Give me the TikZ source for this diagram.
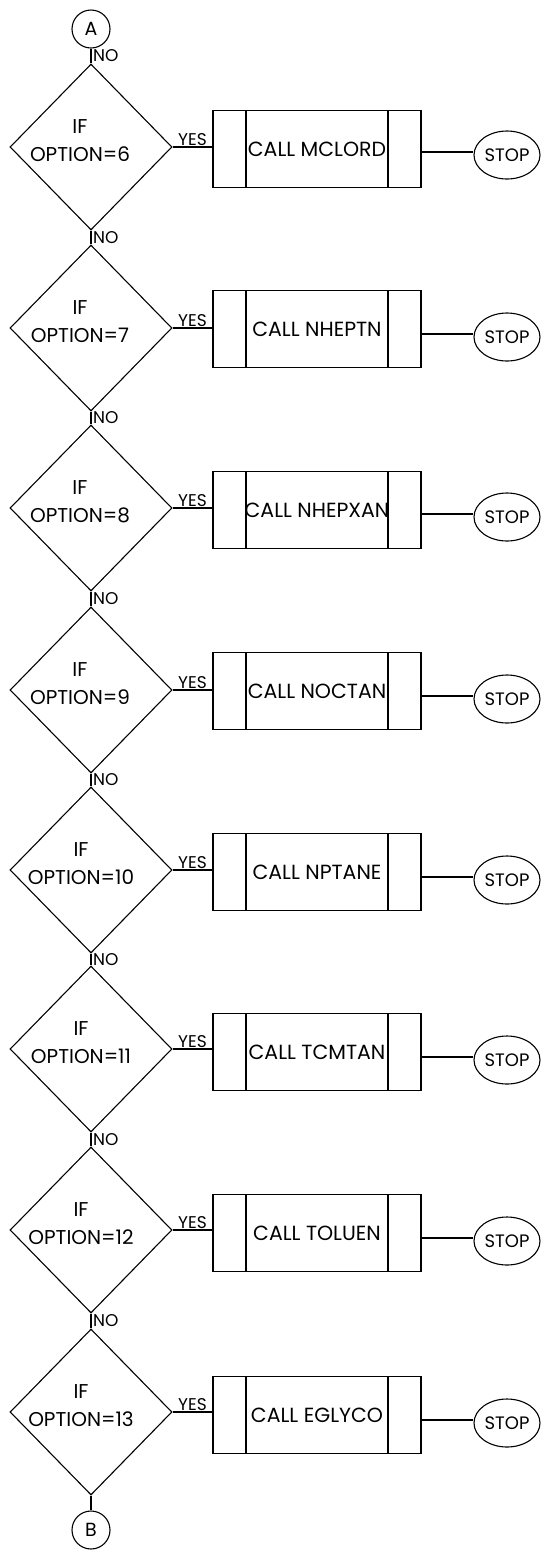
\documentclass[tikz,border=0pt]{standalone}
\usepackage{fontspec}
\setmainfont{Poppins}
\usepackage{tikz}
\usetikzlibrary{shapes.geometric}

\begin{document}
\begin{tikzpicture}[x=1pt,y=1pt,line width=1.1pt,
  conn/.style={draw,circle,minimum size=38pt,inner sep=0pt,font=\fontsize{19}{22}\selectfont},
  decision/.style={draw,diamond,minimum width=162pt,minimum height=166pt,inner sep=0pt},
  iftext/.style={align=center,inner sep=0pt,font=\fontsize{20}{28}\selectfont},
  callbox/.style={draw,rectangle,minimum width=208pt,minimum height=77pt,inner sep=0pt,font=\fontsize{20.5}{24}\selectfont},
  callbox/.append style={path picture={\draw ([xshift=33pt]path picture bounding box.north west) -- ([xshift=33pt]path picture bounding box.south west);
      \draw ([xshift=-33pt]path picture bounding box.north east) -- ([xshift=-33pt]path picture bounding box.south east);}},
  stopnode/.style={draw,ellipse,minimum width=66pt,minimum height=48pt,inner sep=0pt,font=\fontsize{18}{20}\selectfont},
  yeslbl/.style={above,inner sep=0.5pt,font=\fontsize{17}{20}\selectfont},
  nolbl/.style={right,inner sep=1.5pt,font=\fontsize{17}{20}\selectfont}]
\useasboundingbox (0,0) rectangle (541,-1551);

% connectors in and out
\node[conn] (a) at (91,-29) {A};
\node[conn] (b) at (91,-1530) {B};

% option tests
\node[decision] (d6) at (91,-147) {};
\node[decision] (d7) at (91,-328) {};
\node[decision] (d8) at (91,-508) {};
\node[decision] (d9) at (91,-690) {};
\node[decision] (d10) at (91,-870) {};
\node[decision] (d11) at (91,-1049) {};
\node[decision] (d12) at (91,-1230) {};
\node[decision] (d13) at (91,-1412) {};
\node[iftext] (t6) at ([shift={(-11,6)}]d6.center) {IF\\OPTION=6};
\node[iftext] (t7) at ([shift={(-11,6)}]d7.center) {IF\\OPTION=7};
\node[iftext] (t8) at ([shift={(-11,6)}]d8.center) {IF\\OPTION=8};
\node[iftext] (t9) at ([shift={(-11,6)}]d9.center) {IF\\OPTION=9};
\node[iftext] (t10) at ([shift={(-10,6)}]d10.center) {IF\\OPTION=10};
\node[iftext] (t11) at ([shift={(-10,6)}]d11.center) {IF\\OPTION=11};
\node[iftext] (t12) at ([shift={(-10,6)}]d12.center) {IF\\OPTION=12};
\node[iftext] (t13) at ([shift={(-10,6)}]d13.center) {IF\\OPTION=13};

% subroutine calls
\node[callbox] (c6) at (317,-149) {CALL MCLORD};
\node[callbox] (c7) at (317,-329) {CALL NHEPTN};
\node[callbox] (c8) at (317,-510) {CALL NHEPXAN};
\node[callbox] (c9) at (317,-691) {CALL NOCTAN};
\node[callbox] (c10) at (317,-872) {CALL NPTANE};
\node[callbox] (c11) at (317,-1052) {CALL TCMTAN};
\node[callbox] (c12) at (317,-1233) {CALL TOLUEN};
\node[callbox] (c13) at (317,-1415) {CALL EGLYCO};

\node[stopnode] (s6) at (507,-155) {STOP};
\node[stopnode] (s7) at (507,-337) {STOP};
\node[stopnode] (s8) at (507,-517) {STOP};
\node[stopnode] (s9) at (507,-699) {STOP};
\node[stopnode] (s10) at (507,-880) {STOP};
\node[stopnode] (s11) at (507,-1060) {STOP};
\node[stopnode] (s12) at (507,-1241) {STOP};
\node[stopnode] (s13) at (507,-1423) {STOP};

% NO path
\draw (a) -- node[nolbl]{NO} (d6);
\draw (d6) -- node[nolbl]{NO} (d7);
\draw (d7) -- node[nolbl]{NO} (d8);
\draw (d8) -- node[nolbl]{NO} (d9);
\draw (d9) -- node[nolbl]{NO} (d10);
\draw (d10) -- node[nolbl]{NO} (d11);
\draw (d11) -- node[nolbl]{NO} (d12);
\draw (d12) -- node[nolbl]{NO} (d13);
\draw (d13) -- (b);

% YES path
\draw (d6.east) -- node[yeslbl]{YES} (d6.east -| c6.west);
\draw (d7.east) -- node[yeslbl]{YES} (d7.east -| c7.west);
\draw (d8.east) -- node[yeslbl]{YES} (d8.east -| c8.west);
\draw (d9.east) -- node[yeslbl]{YES} (d9.east -| c9.west);
\draw (d10.east) -- node[yeslbl]{YES} (d10.east -| c10.west);
\draw (d11.east) -- node[yeslbl]{YES} (d11.east -| c11.west);
\draw (d12.east) -- node[yeslbl]{YES} (d12.east -| c12.west);
\draw (d13.east) -- node[yeslbl]{YES} (d13.east -| c13.west);
\draw ([yshift=3pt]s6.west -| c6.east) -- ([yshift=3pt]s6.west);
\draw ([yshift=3pt]s7.west -| c7.east) -- ([yshift=3pt]s7.west);
\draw ([yshift=3pt]s8.west -| c8.east) -- ([yshift=3pt]s8.west);
\draw ([yshift=3pt]s9.west -| c9.east) -- ([yshift=3pt]s9.west);
\draw ([yshift=3pt]s10.west -| c10.east) -- ([yshift=3pt]s10.west);
\draw ([yshift=3pt]s11.west -| c11.east) -- ([yshift=3pt]s11.west);
\draw ([yshift=3pt]s12.west -| c12.east) -- ([yshift=3pt]s12.west);
\draw ([yshift=3pt]s13.west -| c13.east) -- ([yshift=3pt]s13.west);
\end{tikzpicture}
\end{document}
